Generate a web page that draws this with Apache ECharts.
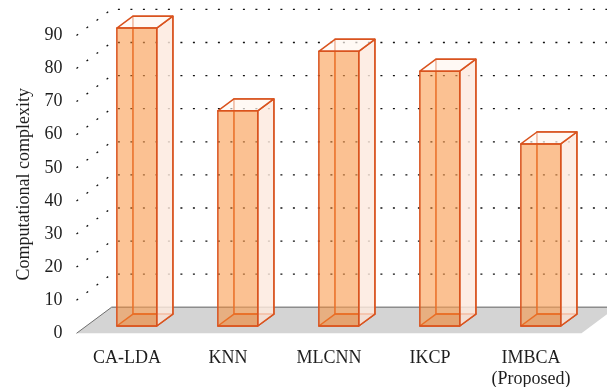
<!DOCTYPE html>
<html>
<head>
<meta charset="utf-8">
<script src="https://cdn.jsdelivr.net/npm/echarts/dist/echarts.min.js"></script>
<style>
  html, body { margin: 0; padding: 0; background: #ffffff; }
  #chart { width: 607px; height: 387px; }
</style>
</head>
<body>
<div id="chart"></div>
<script>
// Computational complexity of each method
const categories = ['CA-LDA', 'KNN', 'MLCNN', 'IKCP', 'IMBCA\n(Proposed)'];
const complexity = [90, 65, 83, 77, 55];
const yTicks = [0, 10, 20, 30, 40, 50, 60, 70, 80, 90];

// Oblique projection of the depth axis (full depth of floor / back wall)
const DEPTH_X = 35;
const DEPTH_Y = -26;
// Bars occupy this slice of the depth
const BAR_Z0 = 0.28;
const BAR_Z1 = 0.74;
const BAR_RATIO = 0.395;

const EDGE = '#D9531E';
const FONT = 'Liberation Serif';

const chart = echarts.init(document.getElementById('chart'), null, { renderer: 'canvas' });

function bandLeft(api, v) {
  const p = api.coord([0, v]);
  return [p[0] - api.size([1, 0])[0] / 2, p[1]];
}

// Grey floor under the bars
function renderFloor(params, api) {
  const band = api.size([1, 0])[0];
  const fl = bandLeft(api, 0);
  const xr = api.coord([categories.length - 1, 0])[0] + band / 2;
  const W = api.getWidth();
  const y0 = fl[1];
  return {
    type: 'group',
    children: [
      {
        type: 'polygon',
        shape: { points: [[fl[0], y0], [xr, y0], [xr + DEPTH_X, y0 + DEPTH_Y], [fl[0] + DEPTH_X, y0 + DEPTH_Y]] },
        style: { fill: '#D4D4D4', stroke: null }
      },
      {
        type: 'line',
        shape: { x1: fl[0] + DEPTH_X, y1: y0 + DEPTH_Y, x2: W, y2: y0 + DEPTH_Y },
        style: { stroke: '#8C8C8C', lineWidth: 1.5 }
      },
      {
        type: 'line',
        shape: { x1: fl[0], y1: y0, x2: fl[0] + DEPTH_X, y2: y0 + DEPTH_Y },
        style: { stroke: '#6E6E6E', lineWidth: 1 }
      }
    ]
  };
}

// Dotted wall lines: along the left wall, then across the back wall
function renderWallLine(params, api) {
  const v = api.value(1);
  if (v === 0) return null;
  const p = bandLeft(api, v);
  const W = api.getWidth();
  return {
    type: 'polyline',
    shape: { points: [[p[0], p[1]], [p[0] + DEPTH_X, p[1] + DEPTH_Y], [W, p[1] + DEPTH_Y]] },
    style: { stroke: '#111', lineWidth: 1.3, lineDash: [2, 10.5], fill: null }
  };
}

// Translucent 3D box for one value
function renderBar(params, api) {
  const i = api.value(0);
  const v = api.value(1);
  const top = api.coord([i, v]);
  const base = api.coord([i, 0]);
  const hw = api.size([1, 0])[0] * BAR_RATIO / 2;
  const pt = (x, y, z) => [x + DEPTH_X * z, y + DEPTH_Y * z];
  const xl = top[0] - hw, xr = top[0] + hw;
  const yt = top[1], yb = base[1];

  const fTL = pt(xl, yt, BAR_Z0), fTR = pt(xr, yt, BAR_Z0);
  const fBL = pt(xl, yb, BAR_Z0), fBR = pt(xr, yb, BAR_Z0);
  const bTL = pt(xl, yt, BAR_Z1), bTR = pt(xr, yt, BAR_Z1);
  const bBL = pt(xl, yb, BAR_Z1), bBR = pt(xr, yb, BAR_Z1);

  const edge = { stroke: EDGE, lineWidth: 1.5, lineJoin: 'round' };
  return {
    type: 'group',
    children: [
      { type: 'polygon', shape: { points: [bBL, bBR, bTR, bTL] },
        style: Object.assign({ fill: 'rgba(253,236,225,0.25)' }, edge) },
      { type: 'polygon', shape: { points: [fBL, fBR, bBR, bBL] },
        style: Object.assign({ fill: 'rgba(200,90,30,0.18)' }, edge) },
      { type: 'polygon', shape: { points: [fBR, bBR, bTR, fTR] },
        style: Object.assign({ fill: 'rgba(253,234,222,0.75)' }, edge) },
      { type: 'polygon', shape: { points: [fTL, fTR, bTR, bTL] },
        style: Object.assign({ fill: 'rgba(255,248,242,0.6)' }, edge) },
      { type: 'polygon', shape: { points: [fBL, fBR, fTR, fTL] },
        style: Object.assign({ fill: 'rgba(250,138,45,0.5)' }, edge) }
    ]
  };
}

chart.setOption({
  animation: false,
  grid: { left: 76.5, right: 25.5, top: 35.4, bottom: 53.7, outerBoundsMode: 'none', containLabel: false },
  xAxis: {
    type: 'category',
    data: categories,
    axisLine: { show: false },
    axisTick: { show: false },
    axisLabel: { interval: 0, fontFamily: FONT, fontSize: 18, color: '#1e1e1e', margin: 14, lineHeight: 21 }
  },
  yAxis: {
    type: 'value',
    min: 0,
    max: 90,
    interval: 10,
    name: 'Computational complexity',
    nameLocation: 'middle',
    nameGap: 43,
    nameTextStyle: { fontFamily: FONT, fontSize: 18, color: '#1e1e1e' },
    axisLine: { show: false },
    axisTick: { show: false },
    splitLine: { show: false },
    axisLabel: { fontFamily: FONT, fontSize: 18, color: '#1e1e1e', margin: 14, padding: [4, 0, 0, 0] }
  },
  series: [
    {
      type: 'custom',
      renderItem: renderFloor,
      data: [[0, 0]],
      clip: false,
      silent: true,
      z: 1
    },
    {
      type: 'custom',
      renderItem: renderWallLine,
      data: yTicks.map(v => [0, v]),
      clip: false,
      silent: true,
      z: 2
    },
    {
      type: 'custom',
      renderItem: renderBar,
      data: complexity.map((v, i) => [i, v]),
      clip: false,
      z: 3
    }
  ]
});
</script>
</body>
</html>
